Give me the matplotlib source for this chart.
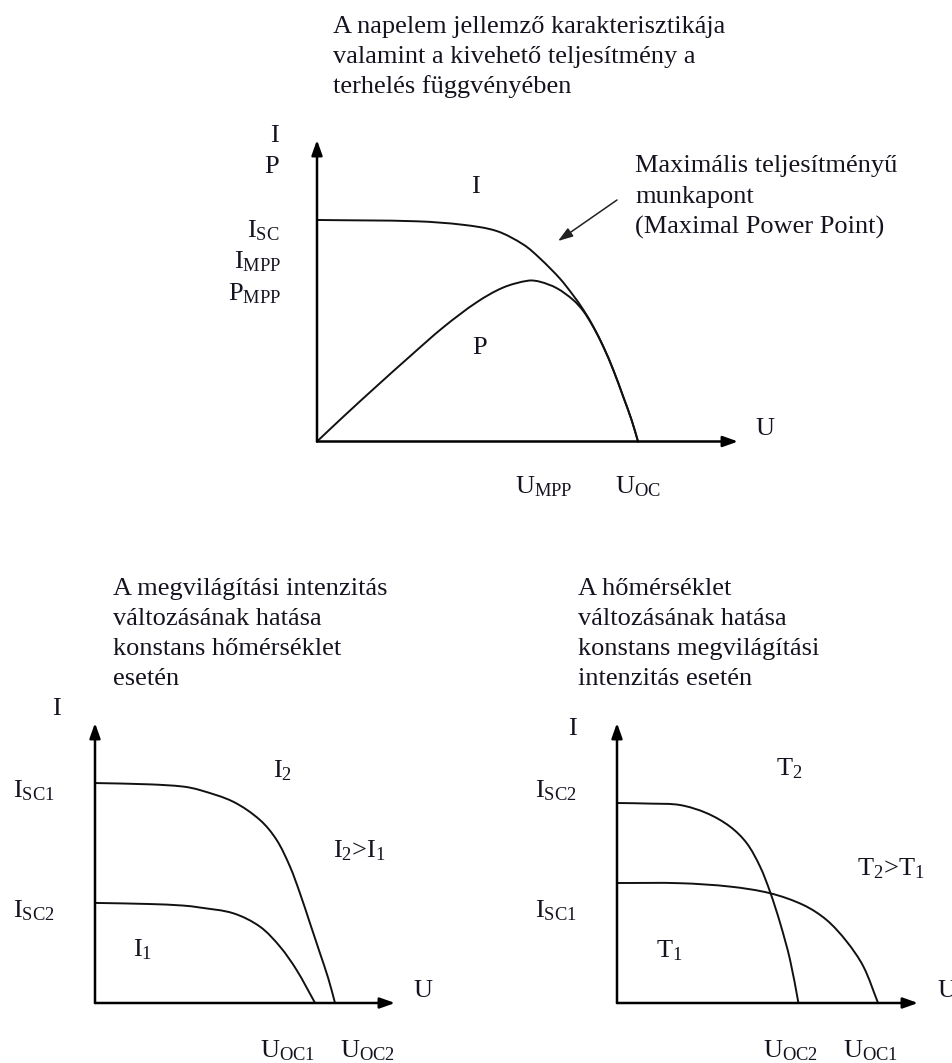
import matplotlib
matplotlib.use("Agg")
import numpy as np
import matplotlib.pyplot as plt
from matplotlib.path import Path
from matplotlib.patches import PathPatch

plt.rcParams["font.family"] = ["Liberation Serif", "DejaVu Serif"]
plt.rcParams["mathtext.fontset"] = "custom"
plt.rcParams["mathtext.rm"] = "Liberation Serif"
plt.rcParams["mathtext.it"] = "Liberation Serif"

# napelem I-U es P-U jelleggorbe (U/U_OC, I/I_SC normalt ertekek)
u_i = [0, 0.31, 0.456, 0.56, 0.644, 0.695, 0.757, 0.798, 0.830, 0.861, 0.892, 0.923, 0.954, 0.980, 1.0]
i_main = [1.0, 0.994, 0.978, 0.95, 0.888, 0.826, 0.735, 0.660, 0.594, 0.518, 0.428, 0.323, 0.202, 0.097, 0.0]
u_p = [0, 0.082, 0.186, 0.29, 0.393, 0.497, 0.58, 0.658, 0.695, 0.747, 0.798, 0.830, 0.861, 0.892, 0.923, 0.954, 0.98, 1.0]
p_main = [0, 0.112, 0.25, 0.385, 0.515, 0.628, 0.695, 0.726, 0.721, 0.692, 0.639, 0.588, 0.516, 0.428, 0.323, 0.202, 0.097, 0.0]

# megvilagitasi intenzitas hatasa
u_i2 = [0, 0.228, 0.367, 0.4375, 0.576, 0.6875, 0.757, 0.8125, 0.854, 0.896, 0.9375, 0.972, 1.0]
i_i2 = [1.0, 0.994, 0.984, 0.968, 0.915, 0.832, 0.741, 0.62, 0.499, 0.362, 0.226, 0.112, 0.0]
u_i1 = [0, 0.228, 0.367, 0.4375, 0.576, 0.6875, 0.771, 0.84, 0.917]
i_i1 = [0.455, 0.45, 0.443, 0.434, 0.408, 0.347, 0.256, 0.15, 0.0]

# homerseklet hatasa
u_t2 = [0, 0.127, 0.241, 0.344, 0.433, 0.497, 0.548, 0.586, 0.625, 0.663, 0.695]
i_t2 = [1.0, 0.997, 0.99, 0.949, 0.882, 0.799, 0.682, 0.557, 0.399, 0.215, 0.0]
u_t1 = [0, 0.241, 0.433, 0.586, 0.714, 0.803, 0.88, 0.944, 1.0]
i_t1 = [0.6, 0.599, 0.582, 0.549, 0.49, 0.415, 0.307, 0.182, 0.0]

title_top = ["A napelem jellemző karakterisztikája",
             "valamint a kivehető teljesítmény a",
             "terhelés függvényében"]
title_left = ["A megvilágítási intenzitás", "változásának hatása",
              "konstans hőmérséklet", "esetén"]
title_right = ["A hőmérséklet", "változásának hatása",
               "konstans megvilágítási", "intenzitás esetén"]
mpp_note = ["Maximális teljesítményű", "munkapont", "(Maximal Power Point)"]

W, H = 953, 1063
FS = 19
TXT = "#141420"

fig = plt.figure(figsize=(W / 100, H / 100), dpi=100)


def px_axes(x0, y0, x1, y1, xmax, ymax):
    # x0,y0 = origo, x1 = x nyil hegye, y1 = y nyil hegye (pixelben)
    ax = fig.add_axes([x0 / W, 1 - y0 / H, (x1 - x0) / W, (y0 - y1) / H])
    ax.set_xlim(0, xmax)
    ax.set_ylim(0, ymax)
    ax.set_axis_off()
    arrow = dict(arrowstyle="-|>,head_length=0.9,head_width=0.32", lw=1.8,
                 color="black", shrinkA=0, shrinkB=0, mutation_scale=10)
    ax.annotate("", xy=(1, 0), xytext=(0, 0), xycoords="axes fraction", arrowprops=arrow)
    ax.annotate("", xy=(0, 1), xytext=(0, 0), xycoords="axes fraction", arrowprops=arrow)
    return ax


def smooth_curve(ax, xs, ys):
    # hurhossz szerint parameterezett Catmull-Rom gorbe, kobos Bezier szakaszokkal
    p = np.column_stack([xs, ys]).astype(float)
    d = ax.transData.transform(p)
    t = np.concatenate([[0], np.cumsum(np.hypot(*np.diff(d, axis=0).T))])
    n = len(p)
    m = np.zeros_like(p)
    m[0] = (p[1] - p[0]) / (t[1] - t[0])
    m[-1] = (p[-1] - p[-2]) / (t[-1] - t[-2])
    for k in range(1, n - 1):
        m[k] = (p[k + 1] - p[k - 1]) / (t[k + 1] - t[k - 1])
    verts = [p[0]]
    codes = [Path.MOVETO]
    for k in range(n - 1):
        dt = t[k + 1] - t[k]
        verts += [p[k] + m[k] * dt / 3, p[k + 1] - m[k + 1] * dt / 3, p[k + 1]]
        codes += [Path.CURVE4] * 3
    patch = PathPatch(Path(verts, codes), facecolor="none", edgecolor="#111111",
                      lw=1.4, clip_on=False, capstyle="round")
    ax.add_patch(patch)


def label(x, y, s, ha="left", size=FS):
    fig.text(x / W, 1 - y / H, s, ha=ha, va="baseline", fontsize=size, color=TXT)


def lines(x, y0, rows, step=30):
    for k, row in enumerate(rows):
        label(x, y0 + k * step, row)


# felso diagram
ax1 = px_axes(317, 441.5, 738, 140, 1.3115, 1.361)
smooth_curve(ax1, u_i, i_main)
smooth_curve(ax1, u_p, p_main)
ax1.annotate("", xy=(558, H - 241), xytext=(617, H - 200), xycoords="figure pixels",
             arrowprops=dict(arrowstyle="-|>,head_length=0.9,head_width=0.3", lw=1.1,
                             color="#222222", shrinkA=0, shrinkB=0, mutation_scale=10))

lines(333, 33, title_top)
lines(635, 172, mpp_note, step=31)
label(279, 142, "I", ha="right")
label(279, 173, "P", ha="right")
label(280, 237, r"I$_\mathrm{SC}$", ha="right")
label(281, 268, r"I$_\mathrm{MPP}$", ha="right")
label(281, 300, r"P$_\mathrm{MPP}$", ha="right")
label(471, 193, "I")
label(472, 354, "P")
label(755, 435, "U")
label(515, 493, r"U$_\mathrm{MPP}$")
label(615, 493, r"U$_\mathrm{OC}$")

# bal also diagram
ax2 = px_axes(95, 1003, 395, 723, 1.25, 1.273)
smooth_curve(ax2, u_i2, i_i2)
smooth_curve(ax2, u_i1, i_i1)

lines(113, 595, title_left)
label(52, 715, "I")
label(13, 797, r"I$_\mathrm{SC1}$")
label(13, 917, r"I$_\mathrm{SC2}$")
label(273, 777, r"I$_2$")
label(333, 857, r"I$_2$>I$_1$")
label(133, 956, r"I$_1$")
label(413, 997, "U")
label(260, 1057, r"U$_\mathrm{OC1}$")
label(340, 1057, r"U$_\mathrm{OC2}$")

# jobb also diagram
ax3 = px_axes(617, 1003, 918, 723, 1.153, 1.4)
smooth_curve(ax3, u_t2, i_t2)
smooth_curve(ax3, u_t1, i_t1)

lines(578, 595, title_right)
label(568, 735, "I")
label(535, 797, r"I$_\mathrm{SC2}$")
label(535, 917, r"I$_\mathrm{SC1}$")
label(776, 775, r"T$_2$")
label(857, 875, r"T$_2$>T$_1$")
label(656, 957, r"T$_1$")
label(937, 997, "U")
label(763, 1057, r"U$_\mathrm{OC2}$")
label(843, 1057, r"U$_\mathrm{OC1}$")

fig.savefig("out.png", dpi=100, facecolor="white")
